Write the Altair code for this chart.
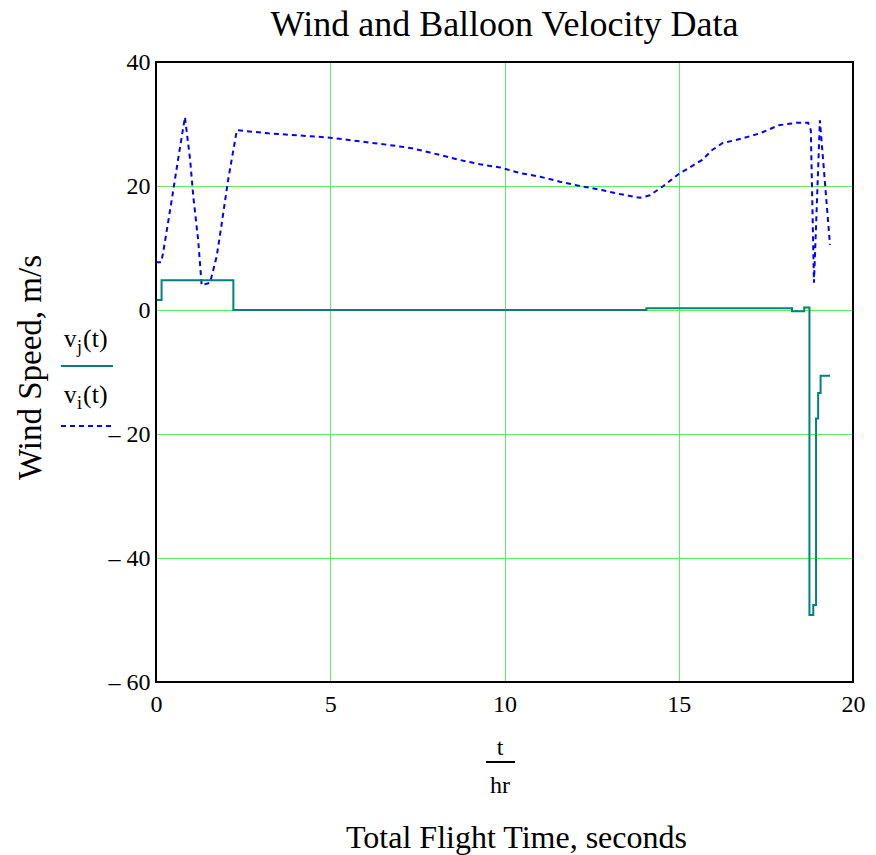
import altair as alt
import pandas as pd

# Balloon velocity v_i(t): time in hours, speed in m/s
t_i = [0.0, 0.15, 0.21, 0.45, 0.64, 0.83, 0.98, 1.07, 1.21, 1.31, 1.55, 1.74, 1.88,
       2.07, 2.32, 3.22, 5.0, 6.43, 6.71, 7.34, 7.86, 8.44, 8.72, 9.30, 9.87,
       10.44, 11.02, 11.59, 12.17, 12.74, 13.31, 13.89, 14.17, 14.56, 14.99,
       15.67, 15.96, 16.25, 16.84, 17.33, 17.87, 18.39, 18.71, 18.79, 18.88,
       19.05, 19.34]
v_i = [7.7, 7.7, 9.4, 17.7, 24.5, 31.1, 24.2, 18.3, 11.3, 4.0, 4.4, 8.6, 13.7,
       21.0, 29.0, 28.5, 27.8, 26.8, 26.6, 26.1, 25.4, 24.6, 24.2, 23.5, 23.0,
       22.1, 21.5, 20.7, 20.0, 19.4, 18.7, 18.1, 18.5, 20.0, 21.9,
       24.2, 25.8, 26.9, 27.7, 28.5, 29.8, 30.2, 30.2, 29.0, 4.4,
       30.6, 10.5]

# Wind velocity v_j(t): piecewise constant
t_j = [0.0, 0.16, 2.22, 14.07, 18.25, 18.6, 18.75, 18.86, 18.94, 19.0, 19.07, 19.34]
v_j = [1.6, 4.8, 0.0, 0.3, -0.2, 0.4, -49.2, -47.6, -17.5, -13.4, -10.6, -10.6]

x_ticks = [0, 5, 10, 15, 20]
y_ticks = [-60, -40, -20, 0, 20, 40]

SERIF = "Liberation Serif"
GRID = "#5cf05c"
TEAL = "#008080"
BLUE = "#0000ff"
W, H = 697, 620

df_i = pd.DataFrame({"t": t_i, "v": v_i})
df_j = pd.DataFrame({"t": t_j, "v": v_j})

x_enc = alt.X(
    "t:Q",
    scale=alt.Scale(domain=[0, 20], nice=False, zero=False),
    axis=alt.Axis(
        values=x_ticks, grid=True, gridColor=GRID, gridWidth=1, ticks=False,
        domain=False, labelFont=SERIF, labelFontSize=24, labelColor="black",
        labelPadding=10, labelFlush=False,
        title="Total Flight Time, seconds", titleFont=SERIF, titleFontSize=32,
        titleFontWeight="normal", titleColor="black",
        titleX=360, titleY=155, titleBaseline="middle", titleAlign="center",
    ),
)
y_axis = alt.Axis(
    values=y_ticks, grid=True, gridColor=GRID, gridWidth=1, ticks=False,
    domain=False, labelFont=SERIF, labelFontSize=24, labelColor="black",
    labelPadding=6, labelFlush=False,
    labelExpr="datum.value < 0 ? '\u2013 ' + abs(datum.value) : datum.label",
    title="Wind Speed, m/s", titleFont=SERIF, titleFontSize=33,
    titleFontWeight="normal", titleColor="black", titleAngle=-90,
    titleX=-126, titleY=305, titleBaseline="middle", titleAlign="center",
)
y_enc = alt.Y("v:Q", scale=alt.Scale(domain=[-60, 40], nice=False, zero=False), axis=y_axis)

balloon = alt.Chart(df_i).mark_line(
    color=BLUE, strokeWidth=2, strokeDash=[5, 4]
).encode(x=x_enc, y=y_enc)

wind = alt.Chart(df_j).mark_line(
    color=TEAL, strokeWidth=2, interpolate="step-after"
).encode(x=alt.X("t:Q"), y=alt.Y("v:Q"))

one = pd.DataFrame({"k": [0]})

# black frame drawn over the grid lines that sit on the plot edges
frame = alt.Chart(one).mark_rect(
    fillOpacity=0, stroke="black", strokeWidth=2
).encode(x=alt.value(0), x2=alt.value(W), y=alt.value(0), y2=alt.value(H))


def label(text, x, y, size, align="left", baseline="alphabetic"):
    return alt.Chart(one).mark_text(
        text=text, font=SERIF, fontSize=size, color="black",
        align=align, baseline=baseline,
    ).encode(x=alt.value(x), y=alt.value(y))


def swatch(x1, x2, y, color, dash=None):
    kw = dict(color=color, strokeWidth=2)
    if dash:
        kw["strokeDash"] = dash
    return alt.Chart(one).mark_rule(**kw).encode(
        x=alt.value(x1), x2=alt.value(x2), y=alt.value(y)
    )


legend = [
    label("v", -92, 285, 25),
    label("j", -79, 291, 18),
    label("(t)", -73, 285, 26),
    swatch(-95, -43, 304, TEAL),
    label("v", -92, 341, 25),
    label("i", -79, 347, 18),
    label("(t)", -73, 341, 26),
    swatch(-95, -45, 364, BLUE, [5, 4]),
]

fraction = [
    label("t", 344, 693, 24, align="center"),
    swatch(330, 359, 700, "black"),
    label("hr", 344, 731, 24, align="center"),
]

chart = alt.layer(balloon, wind, frame, *legend, *fraction).properties(
    width=W,
    height=H,
    title=alt.TitleParams(
        "Wind and Balloon Velocity Data", font=SERIF, fontSize=36,
        fontWeight="normal", color="black", anchor="middle", offset=6,
    ),
    autosize=alt.AutoSizeParams(type="none"),
    padding={"left": 156, "top": 62, "right": 23, "bottom": 173},
).configure_view(
    stroke="black", strokeWidth=2
).configure(background="white")

chart.save("out.html", embed_options={"renderer": "svg", "actions": False})
